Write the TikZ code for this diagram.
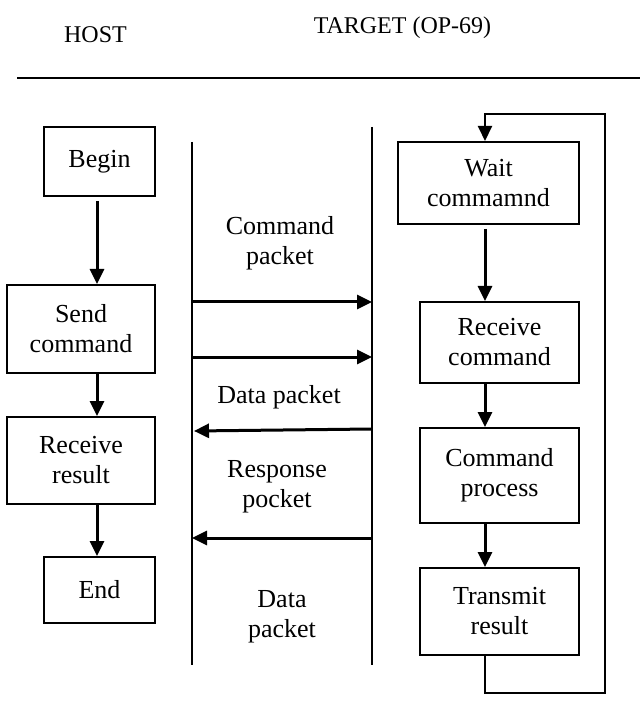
\documentclass[tikz,border=0pt]{standalone}
\usepackage{fontspec}
\setmainfont{Liberation Serif}
\usetikzlibrary{arrows.meta}
\begin{document}
\begin{tikzpicture}[x=0.5pt,y=-0.5pt,
 box/.style={draw,line width=1pt,align=center,inner sep=0pt,font=\fontsize{13}{15}\selectfont},
 lbl/.style={align=center,inner sep=0pt,font=\fontsize{13}{15}\selectfont},
 hdr/.style={inner sep=0pt,anchor=base,font=\fontsize{12}{14}\selectfont},
 arr/.style={line width=1.5pt,-{Triangle[length=7.5pt,width=7pt]}},
 looparr/.style={line width=1pt,-{Triangle[length=7.5pt,width=7pt]}},
 sep/.style={line width=1pt}]
\useasboundingbox (0,0) rectangle (640,726);
% header
\node[hdr] (host) at (95.5,43) {HOST};
\node[hdr] (target) at (402.5,33.5) {TARGET (OP-69)};
\coordinate (h1) at (17,78);
\coordinate (h2) at (640,78);
\draw[sep] (h1) -- (h2);
% host column
\node[box,minimum width=55.5pt,minimum height=34.5pt] (begin) at (99.5,161.5) {Begin};
\node[box,minimum width=74pt,minimum height=44pt] (send) at (81,329) {Send\\command};
\node[box,minimum width=74pt,minimum height=43.5pt] (recv) at (81,460.5) {Receive\\result};
\node[box,minimum width=55.5pt,minimum height=33pt] (end) at (99.5,590) {End};
% target column
\node[box,minimum width=90.5pt,minimum height=41pt] (wait) at (488.5,183) {Wait\\commamnd};
\node[box,minimum width=79.5pt,minimum height=40.5pt] (rcmd) at (499.5,342.5) {Receive\\command};
\node[box,minimum width=79.5pt,minimum height=47.5pt] (proc) at (499.5,475.5) {Command\\process};
\node[box,minimum width=79.5pt,minimum height=43.5pt] (tx) at (499.5,611.5) {Transmit\\result};
% vertical flow arrows
\coordinate (lx) at (97,0);
\coordinate (rx) at (485,0);
\draw[arr,shorten <=2pt] (begin.south -| lx) -- (send.north -| lx);
\draw[arr] (send.south -| lx) -- (recv.north -| lx);
\draw[arr] (recv.south -| lx) -- (end.north -| lx);
\draw[arr,shorten <=2pt] (wait.south -| rx) -- (rcmd.north -| rx);
\draw[arr] (rcmd.south -| rx) -- (proc.north -| rx);
\draw[arr] (proc.south -| rx) -- (tx.north -| rx);
% loop
\coordinate (lb) at (605,693);
\coordinate (lt) at (605,114);
\draw[looparr] (tx.south -| rx) |- (lb) -- (lt) -| (wait.north -| rx);
% separators
\coordinate (s1t) at (192,142);
\coordinate (s1b) at (192,665);
\coordinate (s2t) at (372,127);
\coordinate (s2b) at (372,665);
\draw[sep] (s1t) -- (s1b);
\draw[sep] (s2t) -- (s2b);
% message arrows
\coordinate (a1l) at (192,302); \coordinate (a1r) at (372,302);
\coordinate (a2l) at (192,357); \coordinate (a2r) at (372,357);
\coordinate (a3l) at (194,431); \coordinate (a3r) at (372,429);
\coordinate (a4l) at (192,538); \coordinate (a4r) at (372,538);
\draw[arr] (a1l) -- (a1r);
\draw[arr] (a2l) -- (a2r);
\draw[arr] (a3r) -- (a3l);
\draw[arr] (a4r) -- (a4l);
% labels
\node[lbl] (l1) at (280,243) {Command\\packet};
\node[lbl] (l2) at (279,397) {Data packet};
\node[lbl] (l3) at (277,487) {Response\\pocket};
\node[lbl] (l4) at (282,617) {Data\\packet};
\end{tikzpicture}
\end{document}
